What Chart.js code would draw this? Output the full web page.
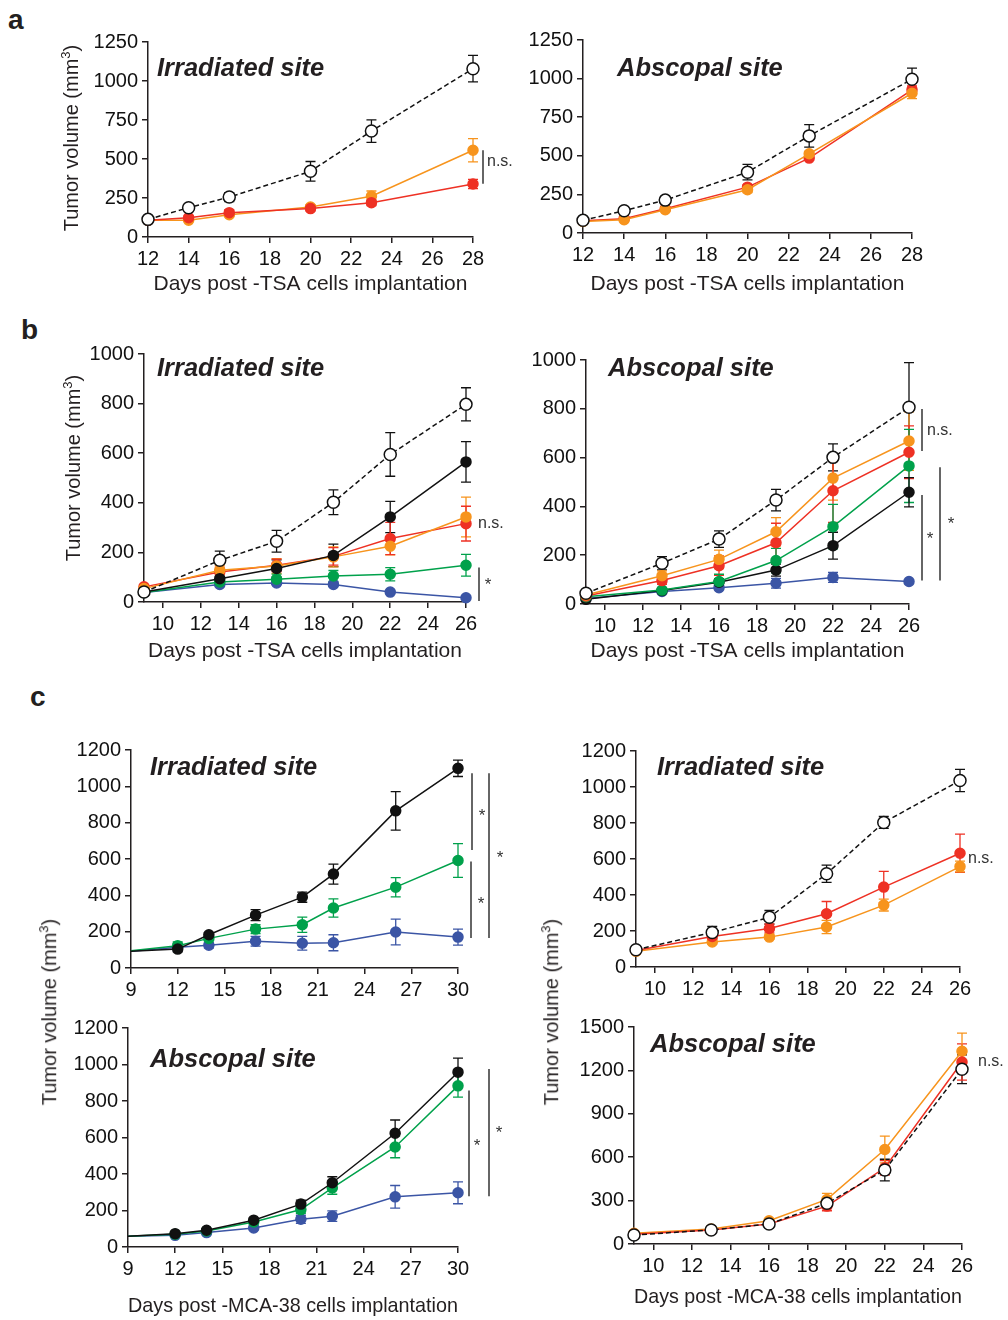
<!DOCTYPE html>
<html>
<head>
<meta charset="utf-8">
<script src="https://cdn.jsdelivr.net/npm/chart.js@4.4.1/dist/chart.umd.min.js"></script>
<style>
body { margin:0; background:#fff; width:1008px; height:1320px; position:relative; overflow:hidden;
       font-family:"Liberation Sans", Arial, sans-serif; color:#231f20; }
canvas { position:absolute; }
.lbl { position:absolute; white-space:nowrap; transform:translateY(-50%); line-height:1; }
.ytitle { position:absolute; white-space:nowrap; font-size:20px; line-height:1;
          transform:translate(-50%,-50%) rotate(-90deg); }
.site { font-size:25.5px; font-weight:bold; font-style:italic; }
.letter { font-size:28px; font-weight:bold; }
</style>
</head>
<body>
<script>
// ---- tick labels ----
const xTicksA = [12, 14, 16, 18, 20, 22, 24, 26, 28];
const xTicksB = [10, 12, 14, 16, 18, 20, 22, 24, 26];
const xTicksC = [9, 12, 15, 18, 21, 24, 27, 30];
const yTicksA = [0, 250, 500, 750, 1000, 1250];
const yTicksB = [0, 200, 400, 600, 800, 1000];
const yTicksC = [0, 200, 400, 600, 800, 1000, 1200];
const yTicksC4 = [0, 300, 600, 900, 1200, 1500];

// ---- panel a (TSA) ----
const daysA = [12, 14, 16, 20, 23, 28];
const aIrrCtrl = [113, 188, 256, 421, 679, 1079];
const aIrrCtrlErr = [10, 20, 29, 63, 72, 85];
const aIrrOrange = [107, 108, 143, 192, 261, 556];
const aIrrOrangeErr = [8, 10, 12, 15, 34, 75];
const aIrrRed = [107, 124, 156, 182, 220, 340];
const aIrrRedErr = [8, 10, 20, 15, 18, 30];

const aAbsCtrl = [82, 144, 213, 394, 629, 996];
const aAbsCtrlErr = [8, 10, 12, 50, 73, 72];
const aAbsOrange = [75, 86, 151, 280, 513, 905];
const aAbsOrangeErr = [6, 8, 10, 18, 15, 35];
const aAbsRed = [80, 93, 157, 297, 485, 927];
const aAbsRedErr = [6, 8, 10, 15, 15, 25];

// ---- panel b (TSA) ----
const daysB = [9, 13, 16, 19, 22, 26];
const bIrrCtrl = [40, 168, 245, 402, 595, 797];
const bIrrCtrlErr = [6, 37, 44, 50, 88, 67];
const bIrrBlack = [40, 94, 135, 188, 343, 565];
const bIrrBlackErr = [5, 25, 35, 45, 63, 82];
const bIrrOrange = [54, 128, 145, 182, 225, 343];
const bIrrOrangeErr = [6, 20, 30, 40, 35, 80];
const bIrrRed = [61, 121, 148, 184, 256, 316];
const bIrrRedErr = [6, 20, 25, 35, 65, 70];
const bIrrGreen = [38, 81, 92, 105, 112, 148];
const bIrrGreenErr = [5, 15, 20, 22, 27, 44];
const bIrrBlue = [38, 71, 77, 71, 40, 17];
const bIrrBlueErr = [4, 6, 6, 6, 6, 4];

const bAbsCtrl = [44, 167, 266, 426, 601, 806];
const bAbsCtrlErr = [5, 27, 34, 44, 55, 183];
const bAbsOrange = [37, 116, 183, 296, 516, 668];
const bAbsOrangeErr = [5, 20, 38, 58, 90, 120];
const bAbsRed = [33, 96, 157, 251, 464, 622];
const bAbsRedErr = [5, 15, 40, 80, 130, 108];
const bAbsGreen = [30, 57, 92, 178, 317, 566];
const bAbsGreenErr = [4, 10, 30, 50, 91, 150];
const bAbsBlack = [19, 55, 89, 139, 239, 458];
const bAbsBlackErr = [4, 8, 15, 25, 55, 60];
const bAbsBlue = [23, 51, 67, 85, 109, 92];
const bAbsBlueErr = [4, 6, 8, 20, 20, 8];

// ---- panel c (MCA-38) ----
const daysC1 = [9, 12, 14, 17, 20, 22, 26, 30];
const cIrrBlack = [92, 104, 183, 291, 390, 517, 865, 1099];
const cIrrBlackErr = [0, 15, 10, 30, 28, 55, 106, 45];
const cIrrGreen = [95, 123, 163, 214, 238, 330, 445, 592];
const cIrrGreenErr = [0, 20, 12, 24, 42, 50, 53, 93];
const cIrrBlue = [92, 114, 125, 147, 136, 139, 198, 170];
const cIrrBlueErr = [0, 20, 15, 27, 38, 44, 71, 44];

const cAbsBlack = [59, 73, 92, 147, 235, 352, 623, 958];
const cAbsBlackErr = [0, 8, 8, 10, 22, 33, 73, 77];
const cAbsGreen = [59, 70, 88, 137, 205, 324, 548, 883];
const cAbsGreenErr = [0, 8, 8, 10, 20, 35, 59, 62];
const cAbsBlue = [59, 64, 79, 104, 152, 169, 275, 297];
const cAbsBlueErr = [0, 6, 8, 10, 22, 29, 62, 60];

const daysC2 = [9, 13, 16, 19, 22, 26];
const cIrr2Ctrl = [96, 192, 276, 518, 803, 1036];
const cIrr2CtrlErr = [8, 33, 38, 48, 33, 62];
const cIrr2Red = [92, 170, 214, 296, 444, 632];
const cIrr2RedErr = [6, 15, 25, 68, 87, 106];
const cIrr2Orange = [87, 139, 166, 222, 344, 558];
const cIrr2OrangeErr = [6, 12, 12, 37, 33, 30];

const cAbs2Ctrl = [62, 97, 138, 281, 511, 1208];
const cAbs2CtrlErr = [5, 8, 10, 30, 75, 100];
const cAbs2Red = [67, 97, 138, 262, 527, 1258];
const cAbs2RedErr = [5, 8, 10, 32, 50, 125];
const cAbs2Orange = [74, 104, 161, 308, 653, 1332];
const cAbs2OrangeErr = [5, 8, 12, 42, 92, 126];

const ORANGE = '#f7941d', RED = '#ee3124', GREEN = '#00a14b', BLUE = '#3b55a5', BLACK = '#111111';
const FONT = '"Liberation Sans", Arial, sans-serif';

function series(kind, days, vals, err, color) {
    return { kind, days, vals, err, color };
}

// error bars drawn behind the lines/markers
const errorBars = {
    id: 'errorBars',
    beforeDatasetsDraw(chart) {
        const { ctx, scales: { x, y } } = chart;
        chart.data.datasets.forEach(ds => {
            if (!ds.err) return;
            ctx.save();
            ctx.strokeStyle = ds.errColor;
            ctx.lineWidth = 1.3;
            ds.data.forEach((pt, i) => {
                const e = ds.err[i];
                if (!e) return;
                const px = x.getPixelForValue(pt.x);
                const yt = y.getPixelForValue(pt.y + e);
                const yb = y.getPixelForValue(Math.max(0, pt.y - e));
                ctx.beginPath();
                ctx.moveTo(px, yt); ctx.lineTo(px, yb);
                ctx.moveTo(px - 5, yt); ctx.lineTo(px + 5, yt);
                ctx.moveTo(px - 5, yb); ctx.lineTo(px + 5, yb);
                ctx.stroke();
            });
            ctx.restore();
        });
    }
};

function makeDataset(s, p) {
    const ctrl = s.kind === 'ctrl';
    const col = ctrl ? BLACK : s.color;
    return {
        data: s.days.map((d, i) => ({ x: d, y: s.vals[i] })),
        err: s.err,
        errColor: col,
        borderColor: col,
        borderWidth: 1.5,
        borderDash: ctrl ? [5, 3] : [],
        pointBackgroundColor: ctrl ? '#fff' : col,
        pointBorderColor: col,
        pointBorderWidth: 1.5,
        pointRadius: ctx => (p.hideFirst && ctx.dataIndex === 0) ? 0 : (ctrl ? 6 : 5),
        tension: 0,
        clip: false
    };
}

function addText(cls, text, x, y) {
    const d = document.createElement('div');
    d.className = cls;
    d.innerHTML = text;
    d.style.left = x + 'px';
    d.style.top = y + 'px';
    document.body.appendChild(d);
}

function makePanel(p) {
    const padL = 80, padT = 30, padR = 70;
    const xH = p.xTitle ? p.xTitleOffset + 12 : 40;
    const w = p.R - p.L + padL + padR;
    const h = p.B - p.T + padT + xH;
    const cv = document.createElement('canvas');
    cv.width = w; cv.height = h;
    cv.style.left = (p.L - padL) + 'px';
    cv.style.top = (p.T - padT) + 'px';
    cv.style.width = w + 'px';
    cv.style.height = h + 'px';
    document.body.appendChild(cv);

    const marks = {
        id: 'marks',
        afterDraw(chart) {
            const { ctx, chartArea, scales: { y } } = chart;
            ctx.save();
            ctx.strokeStyle = '#333';
            ctx.lineWidth = 1.5;
            (p.bars || []).forEach(b => {
                const bx = chartArea.right + b.dx;
                ctx.beginPath();
                ctx.moveTo(bx, y.getPixelForValue(b.y1));
                ctx.lineTo(bx, y.getPixelForValue(b.y2));
                ctx.stroke();
            });
            ctx.fillStyle = '#333';
            ctx.textBaseline = 'middle';
            (p.notes || []).forEach(n => {
                const star = n.text === '*';
                ctx.font = (star ? '17px ' : '16px ') + FONT;
                ctx.textAlign = star ? 'center' : 'left';
                ctx.fillText(n.text, chartArea.right + n.dx, y.getPixelForValue(n.y) + (star ? 3 : 0));
            });
            ctx.restore();
        }
    };

    const axisCommon = {
        type: 'linear',
        grid: { drawOnChartArea: false, drawTicks: true, tickLength: 6, color: '#231f20', lineWidth: 1.5 },
        border: { display: true, color: '#231f20', width: 1.5 },
        ticks: { color: '#111', font: { size: 20, family: FONT }, autoSkip: false, maxRotation: 0,
                 padding: 4, callback: v => String(v) }
    };

    new Chart(cv.getContext('2d'), {
        type: 'line',
        data: { datasets: p.series.map(s => makeDataset(s, p)) },
        options: {
            responsive: false,
            animation: false,
            devicePixelRatio: 1,
            layout: { padding: { left: 0, top: padT, right: padR, bottom: 0 } },
            plugins: { legend: { display: false }, tooltip: { enabled: false } },
            scales: {
                x: {
                    ...axisCommon,
                    min: p.xMin, max: p.xMax,
                    afterBuildTicks: sc => { sc.ticks = p.xTicks.map(v => ({ value: v })); },
                    afterFit: sc => { sc.height = xH; },
                    title: {
                        display: !!p.xTitle, text: p.xTitle || '', color: '#231f20',
                        font: { size: 21, family: FONT }, padding: 0
                    }
                },
                y: {
                    ...axisCommon,
                    min: 0, max: p.yMax,
                    afterBuildTicks: sc => { sc.ticks = p.yTicks.map(v => ({ value: v })); },
                    afterFit: sc => { sc.width = padL; }
                }
            }
        },
        plugins: [errorBars, marks]
    });

    addText('lbl site', p.site, p.siteX, p.siteY);
}

const TSA = 'Days post -TSA cells implantation';
const MCA = 'Days post -MCA-38 cells implantation';

// a
makePanel({
    L: 148, R: 473, T: 42, B: 237, xMin: 12, xMax: 28, yMax: 1250, xTicks: xTicksA, yTicks: yTicksA,
    xTitle: TSA, xTitleOffset: 48, site: 'Irradiated site', siteX: 157, siteY: 68,
    series: [
        series('ctrl', daysA, aIrrCtrl, aIrrCtrlErr),
        series('fill', daysA, aIrrRed, aIrrRedErr, RED),
        series('fill', daysA, aIrrOrange, aIrrOrangeErr, ORANGE)
    ],
    bars: [{ dx: 10, y1: 342, y2: 556 }],
    notes: [{ dx: 14, y: 481, text: 'n.s.' }]
});
makePanel({
    L: 583, R: 912, T: 40, B: 233, xMin: 12, xMax: 28, yMax: 1250, xTicks: xTicksA, yTicks: yTicksA,
    xTitle: TSA, xTitleOffset: 52, site: 'Abscopal site', siteX: 617, siteY: 68,
    series: [
        series('ctrl', daysA, aAbsCtrl, aAbsCtrlErr),
        series('fill', daysA, aAbsOrange, aAbsOrangeErr, ORANGE),
        series('fill', daysA, aAbsRed, aAbsRedErr, RED)
    ]
});

// b
makePanel({
    L: 144, R: 466, T: 354, B: 602, xMin: 9, xMax: 26, yMax: 1000, xTicks: xTicksB, yTicks: yTicksB,
    xTitle: TSA, xTitleOffset: 50, site: 'Irradiated site', siteX: 157, siteY: 368,
    series: [
        series('ctrl', daysB, bIrrCtrl, bIrrCtrlErr),
        series('fill', daysB, bIrrBlack, bIrrBlackErr, BLACK),
        series('fill', daysB, bIrrOrange, bIrrOrangeErr, ORANGE),
        series('fill', daysB, bIrrRed, bIrrRedErr, RED),
        series('fill', daysB, bIrrGreen, bIrrGreenErr, GREEN),
        series('fill', daysB, bIrrBlue, bIrrBlueErr, BLUE)
    ],
    bars: [{ dx: 13, y1: 4, y2: 139 }],
    notes: [{ dx: 12, y: 316, text: 'n.s.' }, { dx: 22, y: 81, text: '*' }]
});
makePanel({
    L: 586, R: 909, T: 360, B: 604, xMin: 9, xMax: 26, yMax: 1000, xTicks: xTicksB, yTicks: yTicksB,
    xTitle: TSA, xTitleOffset: 48, site: 'Abscopal site', siteX: 608, siteY: 368,
    series: [
        series('ctrl', daysB, bAbsCtrl, bAbsCtrlErr),
        series('fill', daysB, bAbsOrange, bAbsOrangeErr, ORANGE),
        series('fill', daysB, bAbsRed, bAbsRedErr, RED),
        series('fill', daysB, bAbsGreen, bAbsGreenErr, GREEN),
        series('fill', daysB, bAbsBlack, bAbsBlackErr, BLACK),
        series('fill', daysB, bAbsBlue, bAbsBlueErr, BLUE)
    ],
    bars: [{ dx: 13, y1: 627, y2: 799 }, { dx: 13, y1: 96, y2: 447 }, { dx: 31, y1: 96, y2: 560 }],
    notes: [{ dx: 18, y: 712, text: 'n.s.' }, { dx: 21, y: 279, text: '*' }, { dx: 42, y: 339, text: '*' }]
});

// c
makePanel({
    L: 131, R: 458, T: 750, B: 968, xMin: 9, xMax: 30, yMax: 1200, xTicks: xTicksC, yTicks: yTicksC,
    hideFirst: true, site: 'Irradiated site', siteX: 150, siteY: 767,
    series: [
        series('fill', daysC1, cIrrBlack, cIrrBlackErr, BLACK),
        series('fill', daysC1, cIrrGreen, cIrrGreenErr, GREEN),
        series('fill', daysC1, cIrrBlue, cIrrBlueErr, BLUE)
    ],
    bars: [{ dx: 14, y1: 650, y2: 1072 }, { dx: 13, y1: 165, y2: 586 }, { dx: 31, y1: 165, y2: 1072 }],
    notes: [{ dx: 24, y: 851, text: '*' }, { dx: 23, y: 367, text: '*' }, { dx: 42, y: 623, text: '*' }]
});
makePanel({
    L: 636, R: 960, T: 751, B: 967, xMin: 9, xMax: 26, yMax: 1200, xTicks: xTicksB, yTicks: yTicksC,
    site: 'Irradiated site', siteX: 657, siteY: 767,
    series: [
        series('ctrl', daysC2, cIrr2Ctrl, cIrr2CtrlErr),
        series('fill', daysC2, cIrr2Red, cIrr2RedErr, RED),
        series('fill', daysC2, cIrr2Orange, cIrr2OrangeErr, ORANGE)
    ],
    notes: [{ dx: 8, y: 601, text: 'n.s.' }]
});
makePanel({
    L: 128, R: 458, T: 1028, B: 1247, xMin: 9, xMax: 30, yMax: 1200, xTicks: xTicksC, yTicks: yTicksC,
    hideFirst: true, xTitle: MCA, xTitleOffset: 60, site: 'Abscopal site', siteX: 150, siteY: 1059,
    series: [
        series('fill', daysC1, cAbsBlack, cAbsBlackErr, BLACK),
        series('fill', daysC1, cAbsGreen, cAbsGreenErr, GREEN),
        series('fill', daysC1, cAbsBlue, cAbsBlueErr, BLUE)
    ],
    bars: [{ dx: 11, y1: 278, y2: 857 }, { dx: 31, y1: 278, y2: 975 }],
    notes: [{ dx: 19, y: 568, text: '*' }, { dx: 41, y: 641, text: '*' }]
});
makePanel({
    L: 634, R: 962, T: 1027, B: 1244, xMin: 9, xMax: 26, yMax: 1500, xTicks: xTicksB, yTicks: yTicksC4,
    xTitle: MCA, xTitleOffset: 54, site: 'Abscopal site', siteX: 650, siteY: 1044,
    series: [
        series('ctrl', daysC2, cAbs2Ctrl, cAbs2CtrlErr),
        series('fill', daysC2, cAbs2Red, cAbs2RedErr, RED),
        series('fill', daysC2, cAbs2Orange, cAbs2OrangeErr, ORANGE)
    ],
    notes: [{ dx: 16, y: 1258, text: 'n.s.' }]
});

// panel letters and shared y titles
addText('lbl letter', 'a', 8, 20);
addText('lbl letter', 'b', 21, 330);
addText('lbl letter', 'c', 30, 697);
const yTitle = 'Tumor volume (mm<sup style="font-size:13px">3</sup>)';
addText('ytitle', yTitle, 70, 138);
addText('ytitle', yTitle, 72, 468);
addText('ytitle', yTitle, 48, 1012);
addText('ytitle', yTitle, 550, 1012);
</script>
</body>
</html>
